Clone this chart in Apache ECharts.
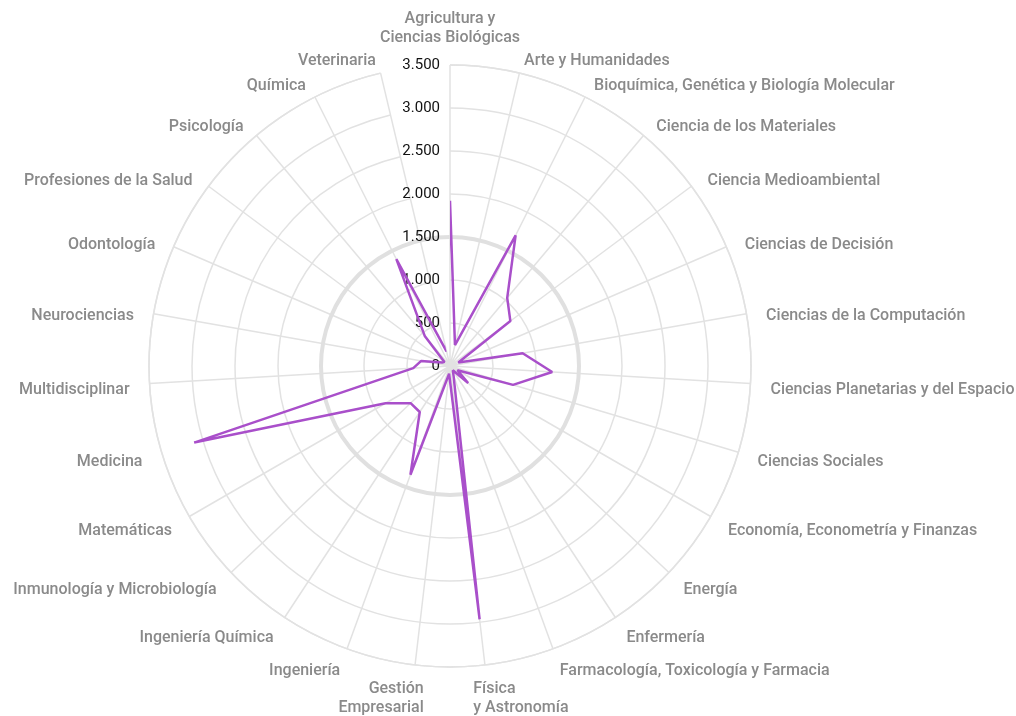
<!DOCTYPE html>
<html><head><meta charset="utf-8">
<script src="https://cdn.jsdelivr.net/npm/echarts@6/dist/echarts.min.js"></script>
<style>html,body{margin:0;padding:0;background:#fff}#c{width:1016px;height:716px}</style>
</head><body><div id="c"></div>
<script>
const categories = [
  'Agricultura y\nCiencias Biológicas', 'Arte y Humanidades', 'Bioquímica, Genética y Biología Molecular',
  'Ciencia de los Materiales', 'Ciencia Medioambiental', 'Ciencias de Decisión', 'Ciencias de la Computación',
  'Ciencias Planetarias y del Espacio', 'Ciencias Sociales', 'Economía, Econometría y Finanzas', 'Energía',
  'Enfermería', 'Farmacología, Toxicología y Farmacia', 'Física\ny Astronomía', 'Gestión\nEmpresarial',
  'Ingeniería', 'Ingeniería Química', 'Inmunología y Microbiología', 'Matemáticas', 'Medicina',
  'Multidisciplinar', 'Neurociencias', 'Odontología', 'Profesiones de la Salud', 'Psicología', 'Química', 'Veterinaria'
];
const values = [
  1920, 250, 1700, 1035, 875, 105, 858, 1190, 765, 100, 290, 60, 120, 2965, 90,
  1345, 640, 630, 866, 3105, 428, 340, 100, 80, 457, 1390, 175
];
const radiusTicks = [0, 500, 1000, 1500, 2000, 2500, 3000, 3500];
const highlightRing = 1500;

const maxR = radiusTicks[radiusTicks.length - 1];
const CX = 450, CY = 366, R = 301;
const FS = 16, LH = 19, GAP = 20, M = -30;
const FONT = 'Roboto', FW = 500, LABEL_COLOR = '#8a8a8a';
const n = categories.length;

function fmt(v) { return String(v).replace(/\B(?=(\d{3})+(?!\d))/g, '.'); }
function P(r, th) { const a = th * Math.PI / 180; return [CX + r * Math.sin(a), CY - r * Math.cos(a)]; }

const ctx = document.createElement('canvas').getContext('2d');
ctx.font = FW + ' ' + FS + 'px ' + FONT;

const richMap = {};
const angleData = categories.map((c, i) => {
  const th = i * 360 / n;
  const rad = th * Math.PI / 180;
  const lines = c.split('\n');
  const W = Math.max.apply(null, lines.map(l => ctx.measureText(l).width));
  const H = lines.length * LH;
  // ECharts' own anchor / alignment for this label
  const A = P(R + M, th);
  const fa = Math.abs(A[0] - CX) / R < 0.3 ? 'center' : (A[0] > CX ? 'left' : 'right');
  const fv = Math.abs(A[1] - CY) / R < 0.3 ? 'middle' : (A[1] > CY ? 'top' : 'bottom');
  // wanted placement
  const D = P(R + GAP, th);
  const s = Math.sin(rad);
  let da = Math.abs(s) < 1e-6 ? 'center' : (s > 0 ? 'left' : 'right');
  let dv = 'middle';
  let dx = D[0], dy = D[1];
  if (lines.length > 1) {
    dv = D[1] < CY ? 'bottom' : 'top';
    if (dv === 'top') { dy -= 5; dx += (da === 'left' ? -14 : 11); }
    else dy += 2;
  } else {
    dy += 5 + 2 * Math.cos(rad);
  }
  const Lc = da === 'left' ? dx : (da === 'right' ? dx - W : dx - W / 2);
  const Tc = dv === 'top' ? dy : (dv === 'bottom' ? dy - H : dy - H / 2);
  let pl = 0, pr = 0, pt = 0, pb = 0;
  if (fa === 'left') pl = Lc - A[0];
  else if (fa === 'right') pr = A[0] - (Lc + W);
  else { const d = 2 * (Lc - A[0]) + W; if (d >= 0) pl = d; else pr = -d; }
  if (fv === 'top') pt = Tc - A[1];
  else if (fv === 'bottom') pb = A[1] - (Tc + H);
  else { const d = 2 * (Tc - A[1]) + H; if (d >= 0) pt = d; else pb = -d; }
  pl = Math.max(0, pl); pr = Math.max(0, pr); pt = Math.max(0, pt); pb = Math.max(0, pb);
  richMap[c] = lines.map(l => '{' + da + '|' + l + '}').join('\n');
  return { value: c, textStyle: { padding: [pt, pr, pb, pl] } };
});

function richStyle(al) {
  return { align: al, fontSize: FS, fontFamily: FONT, fontWeight: FW, color: LABEL_COLOR, lineHeight: LH };
}
const hiddenSpoke = categories.indexOf('Medicina');

const chart = echarts.init(document.getElementById('c'), null, { renderer: 'canvas' });
chart.setOption({
  animation: false,
  backgroundColor: '#ffffff',
  polar: [
    { center: [CX, CY], radius: R },
    { center: [CX, CY], radius: R * highlightRing / maxR }
  ],
  angleAxis: [
    {
      polarIndex: 0, type: 'category', data: angleData, startAngle: 90, clockwise: true, boundaryGap: false,
      axisLine: { lineStyle: { color: '#e2e2e2', width: 1.5 } },
      axisTick: { show: false, interval: (idx) => idx !== hiddenSpoke },
      splitLine: { show: true, interval: (idx) => idx !== hiddenSpoke, lineStyle: { color: '#e2e2e2', width: 1.5 } },
      axisLabel: {
        interval: 0, margin: M, color: LABEL_COLOR, fontSize: FS, fontFamily: FONT, fontWeight: FW, lineHeight: LH,
        formatter: (v) => richMap[v] || v,
        rich: { left: richStyle('left'), right: richStyle('right'), center: richStyle('center') }
      }
    },
    {
      polarIndex: 1, type: 'value', min: 0, max: 360, startAngle: 90,
      axisLine: { lineStyle: { color: '#e0e0e0', width: 4 } },
      axisTick: { show: false }, axisLabel: { show: false }, splitLine: { show: false }
    }
  ],
  radiusAxis: [
    {
      polarIndex: 0, type: 'value', min: 0, max: maxR, interval: radiusTicks[1] - radiusTicks[0],
      axisLine: { show: false }, axisTick: { show: false },
      splitLine: { show: true, lineStyle: { color: '#e2e2e2', width: 1.5 } },
      axisLabel: { margin: 10, color: '#111', fontSize: 15, fontFamily: FONT, formatter: fmt }
    },
    {
      polarIndex: 1, type: 'value', min: 0, max: 1, show: false,
      axisLine: { show: false }, axisTick: { show: false }, axisLabel: { show: false }, splitLine: { show: false }
    }
  ],
  series: [{
    type: 'line', coordinateSystem: 'polar', polarIndex: 0,
    data: values.map((v, i) => [v, i]).concat([[values[0], 0]]),
    symbol: 'none',
    lineStyle: { color: '#a94fca', width: 2.5 },
    z: 5
  }]
});
</script></body></html>
